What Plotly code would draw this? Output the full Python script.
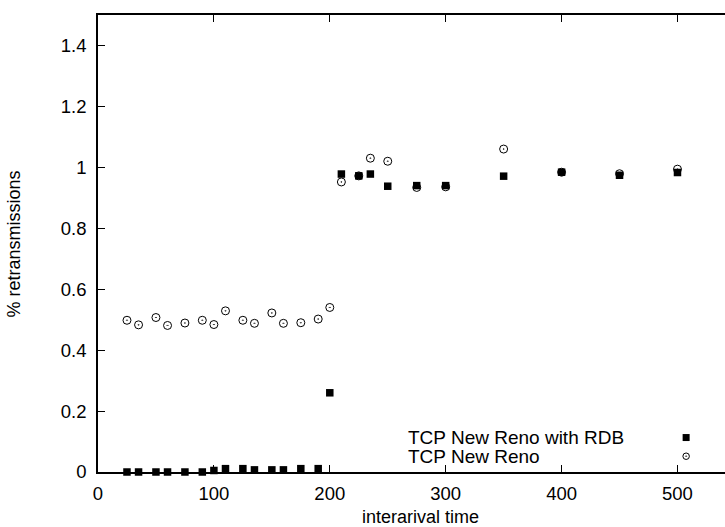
import plotly.graph_objects as go

interarrival = [25, 35, 50, 60, 75, 90, 100, 110, 125, 135, 150, 160, 175, 190, 200,
                210, 225, 235, 250, 275, 300, 350, 400, 450, 500]
rdb = [0, 0, 0, 0, 0, 0, 0.005, 0.011, 0.011, 0.007, 0.007, 0.007, 0.011, 0.011, 0.26,
       0.978, 0.972, 0.978, 0.938, 0.940, 0.940, 0.971, 0.984, 0.974, 0.983]
newreno = [0.498, 0.483, 0.507, 0.481, 0.489, 0.498, 0.484, 0.529, 0.498, 0.488, 0.522,
           0.488, 0.490, 0.502, 0.540,
           0.952, 0.972, 1.030, 1.020, 0.934, 0.936, 1.060, 0.984, 0.979, 0.994]
series_names = ["TCP New Reno with RDB", "TCP New Reno"]
x_ticks = [0, 100, 200, 300, 400, 500]
y_ticks = [0, 0.2, 0.4, 0.6, 0.8, 1, 1.2, 1.4]
y_tick_text = ["0", "0.2", "0.4", "0.6", "0.8", "1", "1.2", "1.4"]

FONT = "Liberation Sans, Arial, Helvetica, sans-serif"

fig = go.Figure()
fig.add_trace(go.Scatter(x=interarrival, y=newreno, mode="markers", name=series_names[1],
                         marker=dict(symbol="circle-open-dot", size=8, color="black",
                                     line=dict(width=1, color="black")),
                         cliponaxis=False, showlegend=False))
fig.add_trace(go.Scatter(x=interarrival, y=rdb, mode="markers", name=series_names[0],
                         marker=dict(symbol="square", size=7.5, color="black"),
                         cliponaxis=False, showlegend=False))

# legend keys on an overlay axis (markers to the right of the text, as in gnuplot)
LEG_X_TEXT, LEG_X_KEY = 0.491, 0.938
LEG_Y = [0.0754, 0.0345]
fig.add_trace(go.Scatter(x=[LEG_X_KEY], y=[LEG_Y[0]], xaxis="x2", yaxis="y2", mode="markers",
                         marker=dict(symbol="square", size=7, color="black"),
                         showlegend=False, hoverinfo="skip"))
fig.add_trace(go.Scatter(x=[LEG_X_KEY], y=[LEG_Y[1]], xaxis="x2", yaxis="y2", mode="markers",
                         marker=dict(symbol="circle-open-dot", size=6.5, color="black",
                                     line=dict(width=1, color="black")),
                         showlegend=False, hoverinfo="skip"))

for txt, yy in zip(series_names, LEG_Y):
    fig.add_annotation(x=LEG_X_TEXT, y=yy, xref="x2", yref="y2", text=txt, showarrow=False,
                       xanchor="left", yanchor="middle",
                       font=dict(family=FONT, size=19, color="black"))

# axis titles
fig.add_annotation(x=0.514, y=-0.0974, xref="paper", yref="paper", text="interarival time",
                   showarrow=False, xanchor="center", yanchor="middle",
                   font=dict(family=FONT, size=18, color="black"))
fig.add_annotation(x=-0.134, y=0.5, xref="paper", yref="paper", text="% retransmissions",
                   showarrow=False, xanchor="center", yanchor="middle", textangle=-90,
                   font=dict(family=FONT, size=18, color="black"))

fig.update_layout(
    width=725, height=527,
    margin=dict(l=98, r=0, t=15, b=55, autoexpand=False),
    paper_bgcolor="white", plot_bgcolor="white",
    font=dict(family=FONT, size=18, color="black"),
    xaxis=dict(range=[0, 541], tickvals=x_ticks, ticks="inside", ticklen=7,
               tickcolor="black", showline=True, linecolor="black", linewidth=1.5,
               mirror="ticks", showgrid=False, zeroline=False, automargin=False,
               tickfont=dict(size=18.5), ticklabelstandoff=4),
    yaxis=dict(range=[0, 1.5], tickvals=y_ticks, ticktext=y_tick_text, ticks="inside",
               ticklen=7, tickcolor="black", showline=True, linecolor="black",
               linewidth=1.5, showgrid=False, zeroline=False, automargin=False,
               tickfont=dict(size=18.5), ticklabelstandoff=6),
    xaxis2=dict(range=[0, 1], overlaying="x", visible=False, fixedrange=True),
    yaxis2=dict(range=[0, 1], overlaying="y", visible=False, fixedrange=True),
)

fig.write_html("out.html", config={"displayModeBar": False},
               post_script="document.body.style.margin='0';document.body.style.overflow='hidden';")
